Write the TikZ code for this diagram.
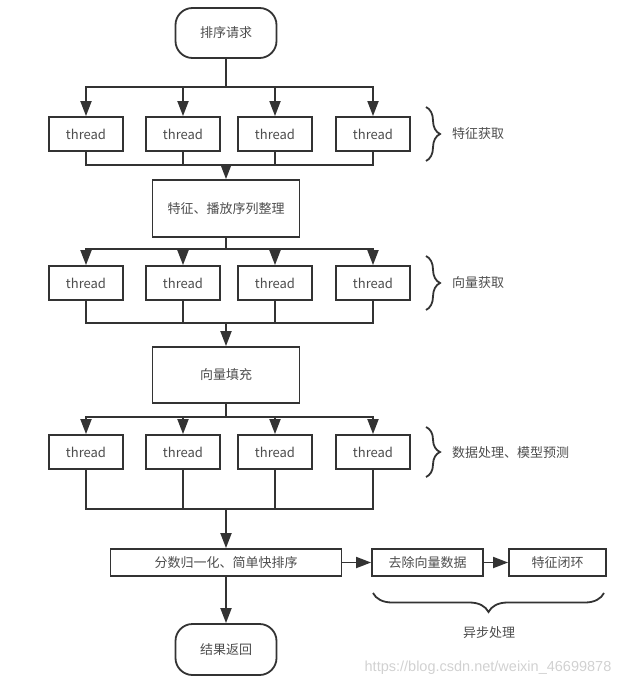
\documentclass[tikz,border=0pt]{standalone}
\usepackage{fontspec}
\setmainfont{Noto Sans CJK SC}
\newfontfamily\wmfont{Liberation Sans}
\usetikzlibrary{arrows.meta,decorations.pathreplacing}
\definecolor{ink}{HTML}{333333}
\definecolor{txt}{HTML}{4D4D4D}
\tikzset{
  box/.style={draw=ink, line width=1.8pt, fill=white, inner sep=0pt, font=\fontsize{13}{15}\selectfont, text=txt},
  term/.style={box, rounded corners=17pt, minimum width=101pt, minimum height=50pt},
  thr/.style={box, minimum width=74pt, minimum height=34pt},
  conn/.style={draw=ink, line width=1.8pt},
  arr/.style={conn, -{Triangle[length=15pt,width=11pt]}},
  brc/.style={draw=ink, line width=1.8pt, decorate},
  lbl/.style={font=\fontsize{13}{15}\selectfont, text=txt, inner sep=0pt}
}
\begin{document}
\begin{tikzpicture}[x=1pt,y=-1pt]
\useasboundingbox (0,0) rectangle (630,687);
% nodes
\node[term] (start) at (226,33) {排序请求};
\foreach \r/\y in {1/134,2/283,3/452}{
  \node[thr] (t\r1) at (86,\y) {thread};
  \node[thr] (t\r2) at (183,\y) {thread};
  \node[thr] (t\r3) at (275,\y) {thread};
  \node[thr] (t\r4) at (373,\y) {thread};
}
\node[box, minimum width=147pt, minimum height=57pt] (b2) at (226,208.5) {特征、播放序列整理};
\node[box, minimum width=147pt, minimum height=56pt] (b3) at (226,375) {向量填充};
\node[box, minimum width=231pt, minimum height=27pt] (b4) at (226,562.5) {分数归一化、简单快排序};
\node[box, minimum width=111pt, minimum height=27pt] (b5) at (427.5,562.5) {去除向量数据};
\node[box, minimum width=97pt, minimum height=27pt] (b6) at (557.5,562.5) {特征闭环};
\node[term, minimum height=51pt] (end) at (226,649.5) {结果返回};
% branch / merge coordinates
\coordinate (s1) at (226,87);
\coordinate (m1) at (226,165);
\coordinate (s2) at (226,249);
\coordinate (m2) at (226,323);
\coordinate (s3) at (226,417);
\coordinate (m3) at (226,509);
% row 1
\draw[conn] (start.south) -- (s1);
\foreach \i in {1,...,4}{\draw[arr] (s1) -| (t1\i.north);}
\foreach \i in {1,...,4}{\draw[conn] (t1\i.south) |- (m1);}
\draw[arr] (m1) -- (b2.north);
% row 2
\draw[conn] (b2.south) -- (s2);
\foreach \i in {1,...,4}{\draw[arr] (s2) -| (t2\i.north);}
\foreach \i in {1,...,4}{\draw[conn] (t2\i.south) |- (m2);}
\draw[arr] (m2) -- (b3.north);
% row 3
\draw[conn] (b3.south) -- (s3);
\foreach \i in {1,...,4}{\draw[arr] (s3) -| (t3\i.north);}
\foreach \i in {1,...,4}{\draw[conn] (t3\i.south) |- (m3);}
\draw[arr] (m3) -- (b4.north);
% bottom
\draw[arr] (b4.east) -- (b5.west);
\draw[arr] (b5.east) -- (b6.west);
\draw[arr] (b4.south) -- (end.north);
% braces
\coordinate (r1a) at (426,107); \coordinate (r1b) at (426,161);
\coordinate (r2a) at (426,256); \coordinate (r2b) at (426,310);
\coordinate (r3a) at (426,427); \coordinate (r3b) at (426,477);
\draw[brc, decoration={brace, amplitude=14pt}] (r1a) -- (r1b);
\draw[brc, decoration={brace, amplitude=14pt}] (r2a) -- (r2b);
\draw[brc, decoration={brace, amplitude=14pt}] (r3a) -- (r3b);
\node[lbl, anchor=west] (l1) at (452,134) {特征获取};
\node[lbl, anchor=west] (l2) at (452,283) {向量获取};
\node[lbl, anchor=west] (l3) at (452,453) {数据处理、模型预测};
\coordinate (ba) at (604,593); \coordinate (bb) at (373,593);
\draw[brc, decoration={brace, amplitude=19pt}] (ba) -- (bb);
\node[lbl] (l4) at (489,633) {异步处理};
% watermark
\node[inner sep=0pt, text=black!18, font=\wmfont\fontsize{14.5}{16}\selectfont] (wm) at (488,668) {https://blog.csdn.net/weixin\_46699878};
\end{tikzpicture}
\end{document}
